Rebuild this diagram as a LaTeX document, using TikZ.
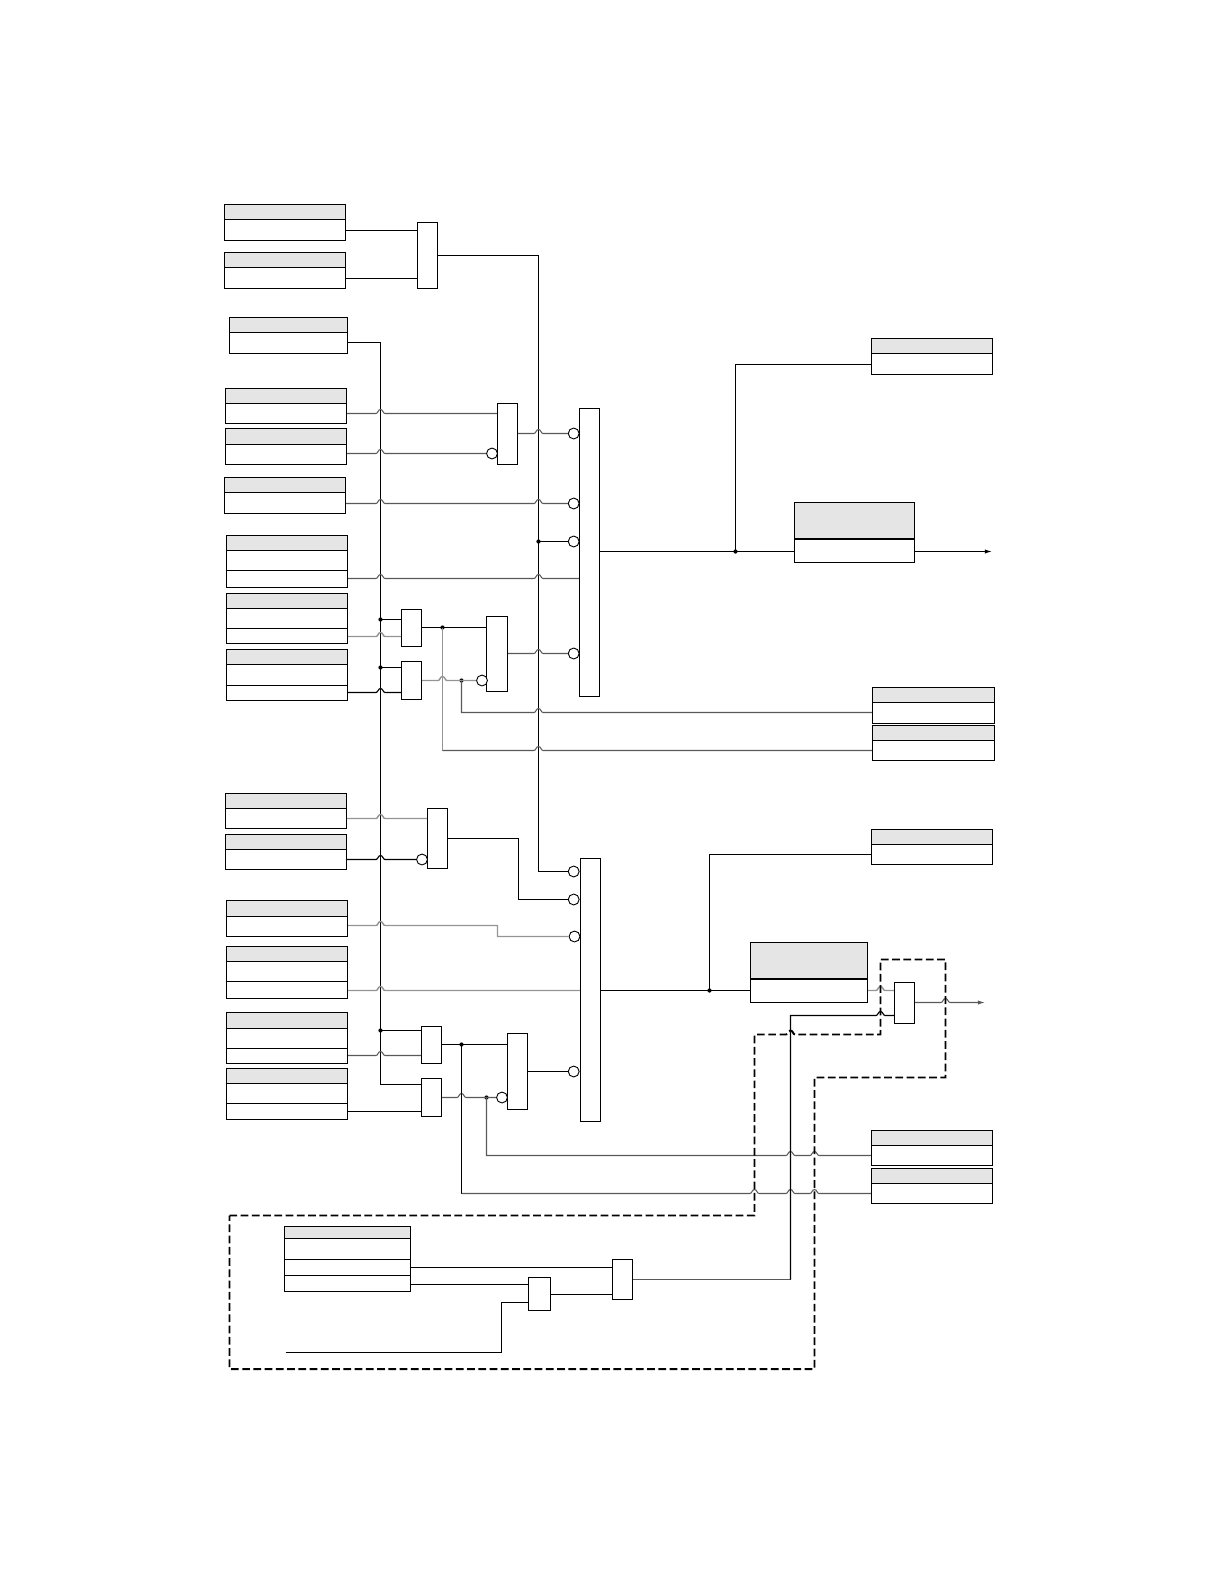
\documentclass[tikz,border=0pt]{standalone}
\usetikzlibrary{positioning,arrows.meta,fit}
\usepackage{xcolor}

\tikzset{
  hdr/.style={draw, fill=black!10, line width=1.6pt, inner sep=0pt, fit={#1}},
  cell/.style={draw, fill=white, line width=1.6pt, inner sep=0pt, fit={#1}},
  gatebox/.style={draw, fill=white, line width=1.6pt, inner sep=0pt, fit={#1}},
  wire/.style={line width=1.6pt},
  wiremid/.style={line width=1.5pt, black!65},
  wirelite/.style={line width=2pt, black!42},
  dotj/.style={circle, fill, inner sep=0pt, minimum size=6pt},
  bub/.style={circle, draw, fill=white, line width=1.3pt, inner sep=0pt, minimum size=15.5pt},
  arrow/.style={-{Latex[length=10pt,width=6pt]}},
  zone/.style={line width=2.8pt, dash pattern=on 11pt off 5pt}
}
% label box with a grey header
\newcommand{\tagtwo}[6]{
  \node[hdr={(#2,#4) (#3,#5)}] (#1h) {};
  \node[cell={(#2,#5) (#3,#6)}] (#1b) {};
}
\newcommand{\tagthree}[7]{
  \tagtwo{#1}{#2}{#3}{#4}{#5}{#6}
  \node[cell={(#2,#6) (#3,#7)}] (#1f) {};
}
% hop over a crossing line
\newcommand{\hop}[2]{-- (#1-4.5,#2) .. controls (#1-2.5,#2) and (#1-2.5,#2-4) .. (#1,#2-4) .. controls (#1+2.5,#2-4) and (#1+2.5,#2) .. (#1+4.5,#2)}

\begin{document}
\begin{tikzpicture}[x=0.05cm, y=-0.05cm]
\useasboundingbox (0,0) rectangle (1224,1584);

% inputs, upper group
\tagtwo{aa}{224.5}{345.5}{204.5}{219.5}{240.5}
\tagtwo{ab}{224.5}{345.5}{252.5}{267.5}{288.5}
\tagtwo{ba}{229.5}{347.5}{317.5}{332.5}{353.5}
\tagtwo{ca}{225.5}{346.5}{388.5}{403.5}{423.5}
\tagtwo{cb}{225.5}{346.5}{428.5}{444.5}{464.5}
\tagtwo{da}{224.5}{345.5}{477.5}{492.5}{513.5}
\tagthree{ea}{226.5}{347.5}{535.5}{550.5}{570.5}{587.5}
\tagthree{eb}{226.5}{347.5}{593.5}{608.5}{628.5}{643.5}
\tagthree{ec}{226.5}{347.5}{649.5}{664.5}{685.5}{700.5}

% inputs, lower group
\tagtwo{ha}{225.5}{346.5}{793.5}{808.5}{828.5}
\tagtwo{hb}{225.5}{346.5}{834.5}{849.5}{869.5}
\tagtwo{ia}{226.5}{347.5}{900.5}{916.5}{936.5}
\tagthree{ja}{226.5}{347.5}{946.5}{961.5}{981.5}{998.5}
\tagthree{ka}{226.5}{347.5}{1012.5}{1028.5}{1048.5}{1063.5}
\tagthree{kb}{226.5}{347.5}{1068.5}{1083.5}{1103.5}{1119.5}

% outputs
\tagtwo{ra}{871.5}{992.5}{338.5}{353.5}{374.5}
\tagtwo{fa}{872.5}{994.5}{687.5}{702.5}{723.5}
\tagtwo{fb}{872.5}{994.5}{725.5}{740.5}{760.5}
\tagtwo{ta}{871.5}{992.5}{829.5}{844.5}{864.5}
\tagtwo{la}{871.5}{992.5}{1130.5}{1145.5}{1165.5}
\tagtwo{lb}{871.5}{992.5}{1168.5}{1183.5}{1203.5}
\tagtwo{sa}{794.5}{914.5}{502.5}{539}{562.5}
\tagtwo{na}{750.5}{867.5}{942.5}{979}{1002.5}
\draw[line width=2.6pt] (sah.south west) -- (sah.south east);
\draw[line width=2.6pt] (nah.south west) -- (nah.south east);

% box inside the dashed zone
\tagthree{pa}{284.5}{410.5}{1226.5}{1238.5}{1259.5}{1275.5}
\node[cell={(284.5,1275.5) (410.5,1291.5)}] (pd) {};

% gates and the two long bars
\node[gatebox={(417.5,222.5) (437.5,288.5)}] (ga) {};
\node[gatebox={(497.5,403.5) (517.5,464.5)}] (gb) {};
\node[gatebox={(401.5,609.5) (421.5,646.5)}] (gc) {};
\node[gatebox={(401.5,661.5) (421.5,699.5)}] (gd) {};
\node[gatebox={(486.5,616.5) (507.5,691.5)}] (ge) {};
\node[gatebox={(427.5,808.5) (447.5,868.5)}] (gf) {};
\node[gatebox={(421.5,1026.5) (441.5,1063.5)}] (gg) {};
\node[gatebox={(421.5,1078.5) (441.5,1116.5)}] (gh) {};
\node[gatebox={(507.5,1033.5) (527.5,1109.5)}] (gi) {};
\node[gatebox={(894.5,982.5) (914.5,1023.5)}] (gj) {};
\node[gatebox={(528.5,1277.5) (550.5,1310.5)}] (gk) {};
\node[gatebox={(612.5,1259.5) (632.5,1299.5)}] (gl) {};
\node[gatebox={(579.5,408.5) (599.5,696.5)}] (mbar) {};
\node[gatebox={(580.5,858.5) (600.5,1121.5)}] (nbar) {};

% inverting inputs
\node[bub] (ba1) at (573.7,433.5) {};
\node[bub] (ba2) at (573.7,503.5) {};
\node[bub] (ba3) at (573.7,541.5) {};
\node[bub] (ba4) at (573.7,653.5) {};
\node[bub] (bb1) at (492,453.5) {};
\node[bub] (bb2) at (482,680.5) {};
\node[bub] (bb3) at (422,859.5) {};
\node[bub] (bb4) at (502,1097.5) {};
\node[bub] (bc1) at (573.7,871.5) {};
\node[bub] (bc2) at (573.7,899.5) {};
\node[bub] (bc3) at (574.5,936.5) {};
\node[bub] (bc4) at (573.7,1071.5) {};

% junctions
\coordinate (busb) at (380.5,1084.5);
\coordinate (rise) at (538.5,871.5);
\node[dotj] (j1) at (380.5,619.5) {};
\node[dotj] (j2) at (380.5,667.5) {};
\node[dotj] (j3) at (380.5,1030.5) {};
\node[dotj] (j4) at (442.5,627.5) {};
\node[dotj] (j5) at (461.5,680.5) {};
\node[dotj] (j6) at (461.5,1044.5) {};
\node[dotj] (j7) at (486.5,1097.5) {};
\node[dotj] (j8) at (538.5,541.5) {};
\node[dotj] (j9) at (735.5,551.5) {};
\node[dotj] (j10) at (709.5,990.5) {};

% upper group wiring
\draw[wire] (aab.east |- 0,230.5) -- (ga.west |- 0,230.5);
\draw[wire] (abb.east |- 0,278.5) -- (ga.west |- 0,278.5);
\draw[wire] (ga.east |- 0,255.5) -| (j8.center) -- (rise) -- (bc1.west);
\draw[wire] (j8.center) -- (ba3.west);
\draw[wire] (bab.east |- 0,342.5) -| (busb) -- (gh.west |- busb);
\draw[wiremid] (cab.east |- 0,413.5) \hop{380.5}{413.5} -- (gb.west |- 0,413.5);
\draw[wiremid] (cbb.east |- 0,453.5) \hop{380.5}{453.5} -- (bb1.west);
\draw[wiremid] (gb.east |- ba1) \hop{538.5}{433.5} -- (ba1.west);
\draw[wiremid] (dab.east |- ba2) \hop{380.5}{503.5} \hop{538.5}{503.5} -- (ba2.west);
\draw[wiremid] (eaf.east |- 0,578.5) \hop{380.5}{578.5} \hop{538.5}{578.5} -- (mbar.west |- 0,578.5);
\draw[wire] (j1.center) -- (gc.west |- j1);
\draw[wire] (j2.center) -- (gd.west |- j2);
\draw[wirelite] (ebf.east |- 0,636.5) \hop{380.5}{636.5} -- (gc.west |- 0,636.5);
\draw[wire] (ecf.east |- 0,692.5) \hop{380.5}{692.5} -- (gd.west |- 0,692.5);
\draw[wire] (gc.east |- j4) -- (ge.west |- j4);
\draw[wirelite] (gd.east |- j5) \hop{442.5}{680.5} -- (bb2.west);
\draw[wiremid] (ge.east |- ba4) \hop{538.5}{653.5} -- (ba4.west);
\draw[wiremid] (j5.center) -- (461.5,712.5) \hop{538.5}{712.5} -- (fab.west |- 0,712.5);
\draw[wirelite] (j4.center) -- (442.5,750.5);
\draw[wiremid] (442.5,750.5) \hop{538.5}{750.5} -- (fbb.west |- 0,750.5);

% upper outputs
\draw[wire] (mbar.east |- j9) -- (j9.center) -- (sab.west |- j9);
\draw[wire] (j9.center) |- (rab.west |- 0,364.5);
\draw[wire,arrow] (sab.east |- j9) -- (992,551.5);

% lower group wiring
\draw[wirelite] (hab.east |- 0,818.5) \hop{380.5}{818.5} -- (gf.west |- 0,818.5);
\draw[wire] (hbb.east |- bb3) \hop{380.5}{859.5} -- (bb3.west);
\draw[wire] (gf.east |- 0,838.5) -- (518.5,838.5) |- (bc2.west);
\draw[wirelite] (iab.east |- 0,925.5) \hop{380.5}{925.5} -- (497.5,925.5) |- (bc3.west);
\draw[wirelite] (jaf.east |- 0,990.5) \hop{380.5}{990.5} -- (nbar.west |- 0,990.5);
\draw[wire] (j3.center) -- (gg.west |- j3);
\draw[wiremid] (kaf.east |- 0,1055.5) \hop{380.5}{1055.5} -- (gg.west |- 0,1055.5);
\draw[wire] (kbf.east |- 0,1111.5) -- (gh.west |- 0,1111.5);
\draw[wire] (gg.east |- j6) -- (gi.west |- j6);
\draw[wiremid] (gh.east |- j7) \hop{461.5}{1097.5} -- (bb4.west);
\draw[wire] (gi.east |- bc4) -- (bc4.west);
\draw[wiremid] (j7.center) -- (486.5,1155.5) \hop{790.5}{1155.5} \hop{814.5}{1155.5} -- (lab.west |- 0,1155.5);
\draw[wire] (j6.center) -- (461.5,1193.5);
\draw[wiremid] (461.5,1193.5) \hop{754.5}{1193.5} \hop{790.5}{1193.5} \hop{814.5}{1193.5} -- (lbb.west |- 0,1193.5);

% lower outputs
\draw[wire] (nbar.east |- j10) -- (j10.center) -- (nab.west |- j10);
\draw[wire] (j10.center) |- (tab.west |- 0,854.5);
\draw[wirelite] (nab.east |- 0,990.5) \hop{880.5}{990.5} -- (gj.west |- 0,990.5);
\draw[wiremid,arrow] (gj.east |- 0,1002.5) \hop{945.5}{1002.5} -- (985,1002.5);

% dashed zone wiring
\draw[wire] (pd.east |- 0,1267.5) -- (gl.west |- 0,1267.5);
\draw[wire] (pd.east |- 0,1284.5) -- (gk.west |- 0,1284.5);
\draw[wire] (gk.east |- 0,1294.5) -- (gl.west |- 0,1294.5);
\coordinate (feed) at (285.5,1352.5);
\draw[wire] (feed) -| (501.5,1302.5) -- (gk.west |- 0,1302.5);
\draw[wiremid] (gl.east |- 0,1279.5) -- (790.5,1279.5);
\draw[wire] (790.5,1279.5) -- (790.5,1015.5) \hop{880.5}{1015.5} -- (gj.west |- 0,1015.5);

% dashed zone
\draw[zone] (229.5,1215.5) -- (754.5,1215.5) -- (754.5,1034.5) \hop{790.5}{1034.5} -- (880.5,1034.5)
  -- (880.5,959.5) -- (945.5,959.5) -- (945.5,1077.5) -- (814.5,1077.5) -- (814.5,1369)
  -- (229.5,1369) -- cycle;
\end{tikzpicture}
\end{document}
